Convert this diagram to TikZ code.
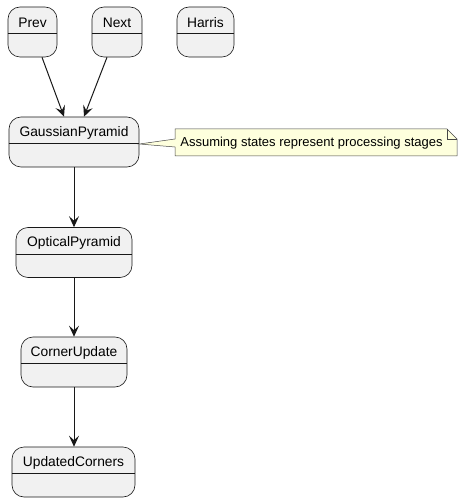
\documentclass[tikz,border=0pt]{standalone}
\usepackage{fontspec}
\setmainfont{Liberation Sans}
\usetikzlibrary{arrows.meta,calc}
\definecolor{stfill}{HTML}{F1F1F1}
\definecolor{stline}{HTML}{181818}
\definecolor{notefill}{HTML}{FEFFDD}
\tikzset{
  st/.style={draw=stline, fill=stfill, rounded corners=12pt, line width=0.6pt, minimum height=50pt, inner sep=0pt},
  lbl/.style={font=\fontsize{13.8}{16}\selectfont, inner sep=0pt, text=black},
  divl/.style={draw=stline, line width=0.6pt},
  arr/.style={draw=stline, line width=1pt, -{Stealth[length=11pt,width=10pt,inset=4.5pt]}},
  notebody/.style={draw=stline!80, fill=notefill, line width=0.5pt, line join=miter},
  notetxt/.style={font=\fontsize{13}{15}\selectfont, inner sep=0pt, text=black}
}
\newcommand\mkstate[5]{% name, cx, cy, width, text
  \node[st, minimum width=#4pt] (#1) at (#2,#3) {};
  \draw[divl] ([yshift=-27pt]#1.north west) -- ([yshift=-27pt]#1.north east);
  \node[lbl] (#1l) at ([yshift=-16pt]#1.north) {#5};
}
\begin{document}
\begin{tikzpicture}[x=1pt,y=-1pt]
\useasboundingbox (0,0) rectangle (463,502);
\mkstate{prev}{32.5}{32}{49}{Prev}
\mkstate{next}{117}{32}{50}{Next}
\mkstate{harris}{205.5}{32}{57}{Harris}
\mkstate{gauss}{74}{142}{130}{GaussianPyramid}
\mkstate{optical}{74}{252.5}{116}{OpticalPyramid}
\mkstate{corner}{74}{362}{106}{CornerUpdate}
\mkstate{updated}{73.5}{472}{123}{UpdatedCorners}
% note
\coordinate (nA) at (175,129);
\coordinate (nB) at (447,129);
\coordinate (nC) at (457,139);
\coordinate (nD) at (457,156);
\coordinate (nE) at (175,156);
\coordinate (nP1) at (175,147);
\coordinate (nP2) at (175,139);
\draw[notebody] (nA) -- (nB) -- (nC) -- (nD) -- (nE) -- (nP1) -- ([yshift=-2pt]gauss.east) -- (nP2) -- cycle;
\draw[notebody, fill=none] (nB) -- (447,139) -- (nC);
\node[notetxt] (note) at (311.5,143.5) {Assuming states represent processing stages};
% arrows
\draw[arr] ([xshift=9.5pt]prev.south) -- ([xshift=-10pt]gauss.north);
\draw[arr] ([xshift=-10pt]next.south) -- ([xshift=10pt]gauss.north);
\draw[arr] (gauss.south) -- (optical.north);
\draw[arr] (optical.south) -- (corner.north);
\draw[arr] (corner.south) -- ([xshift=0.5pt]updated.north);
\end{tikzpicture}
\end{document}
